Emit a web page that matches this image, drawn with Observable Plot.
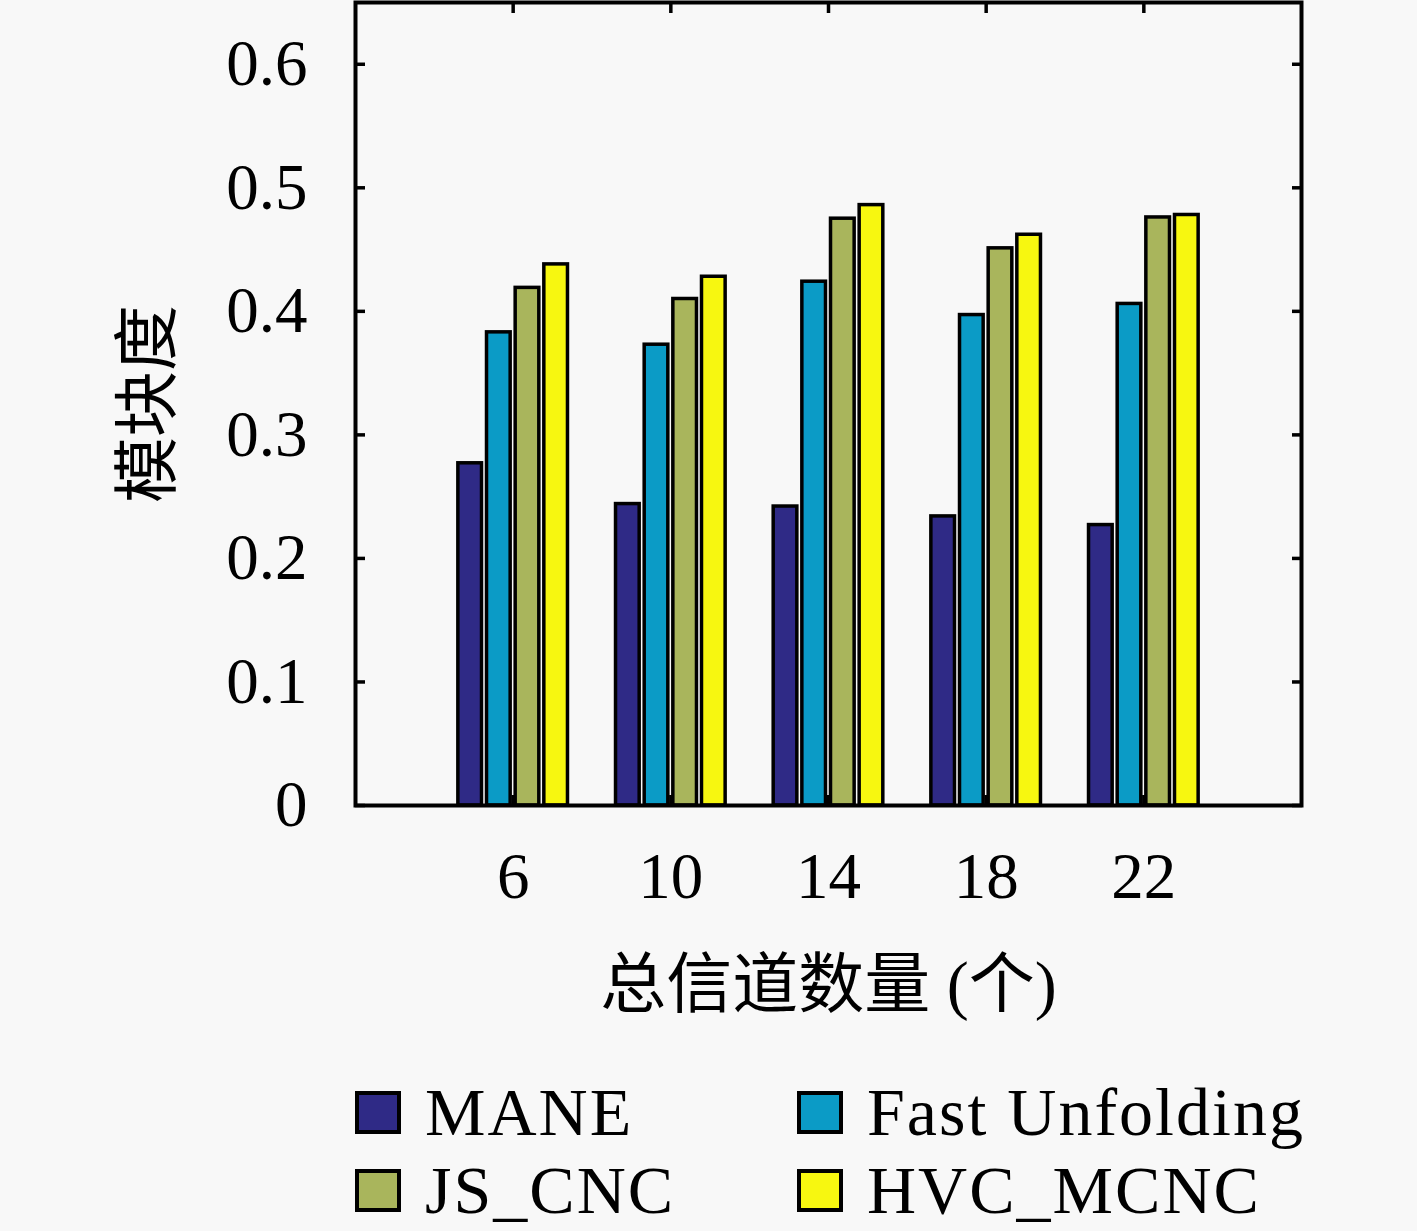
<!DOCTYPE html>
<html>
<head>
<meta charset="utf-8">
<script src="https://cdn.jsdelivr.net/npm/d3@7"></script>
<script src="https://cdn.jsdelivr.net/npm/@observablehq/plot@0.6"></script>
<style>
  html, body { margin: 0; padding: 0; background: #f8f8f8; }
  #wrap { position: relative; width: 1417px; }
  #legend { position: relative; width: 1417px; height: 191px; font-family: "Liberation Serif", "DejaVu Serif", serif; font-size: 68px; letter-spacing: 2px; color: #000; }
  .item { position: absolute; display: flex; align-items: center; height: 70px; }
  .sw { width: 38px; height: 35px; border: 4px solid #000; margin-right: 24px; box-sizing: content-box; }
</style>
</head>
<body>
<div id="wrap"></div>
<script>
// ---- data ----
const categories = [6, 10, 14, 18, 22];
const seriesNames = ["MANE", "Fast Unfolding", "JS_CNC", "HVC_MCNC"];
const maneValues = [0.277, 0.244, 0.242, 0.234, 0.227];
const fastValues = [0.383, 0.373, 0.424, 0.397, 0.406];
const jsValues   = [0.419, 0.410, 0.475, 0.451, 0.476];
const hvcValues  = [0.438, 0.428, 0.486, 0.462, 0.478];
const seriesColors = ["#2f2a86", "#0b9bc6", "#a9b55c", "#f7f710"];
const yTicks = [0, 0.1, 0.2, 0.3, 0.4, 0.5, 0.6];
const xLabel = "总信道数量 (个)";
const yLabel = "模块度";

const allValues = [maneValues, fastValues, jsValues, hvcValues];
const slot = 0.727, barW = 0.6;
const rows = [];
allValues.forEach((vals, si) => {
  vals.forEach((v, ci) => {
    const c = categories[ci] + (si - 1.5) * slot;
    rows.push({ series: seriesNames[si], x1: c - barW / 2, x2: c + barW / 2, value: v });
  });
});

const W = 1417, H = 1040;
const font = '"Liberation Serif", "DejaVu Serif", serif';
const cjk = '"Liberation Serif", "Noto Sans CJK SC", serif';

const chart = Plot.plot({
  width: W,
  height: H,
  marginLeft: 355,
  marginRight: 116,
  marginTop: 2,
  marginBottom: H - 805,
  style: { background: "#f8f8f8", fontFamily: font, color: "#000", overflow: "visible" },
  x: { type: "linear", domain: [2, 26] },
  y: { domain: [0, 0.65] },
  color: { domain: seriesNames, range: seriesColors },
  marks: [
    Plot.rect(rows, { x1: "x1", x2: "x2", y1: 0, y2: "value", fill: "series", stroke: "#000", strokeWidth: 3.5 }),
    // tick labels
    Plot.axisY(yTicks, { anchor: "left", tickSize: 0, tickPadding: 48, fontSize: 65, tickFormat: d => d === 0 ? "0" : d.toFixed(1), label: null }),
    Plot.axisX(categories, { anchor: "bottom", tickSize: 0, tickPadding: 46, fontSize: 65, label: null }),
    // inward ticks on all four sides
    Plot.axisY(yTicks, { anchor: "left", tickSize: 10, dx: 10, text: null, strokeWidth: 3.5, label: null }),
    Plot.axisY(yTicks, { anchor: "right", tickSize: 10, dx: -10, text: null, strokeWidth: 3.5, label: null }),
    Plot.axisX(categories, { anchor: "top", tickSize: 10, dy: 10, text: null, strokeWidth: 3.5, label: null }),
    Plot.axisX(categories, { anchor: "bottom", tickSize: 10, dy: -10, text: null, strokeWidth: 3.5, label: null }),
    Plot.frame({ stroke: "#000", strokeWidth: 4 }),
    // axis titles
    Plot.text([yLabel], { text: d => d, frameAnchor: "left", dx: -207, rotate: -90, textAnchor: "middle", lineAnchor: "middle", fontSize: 66, fontFamily: cjk, fill: "#000" }),
    Plot.text([xLabel], { text: d => d, frameAnchor: "bottom", dy: 180, textAnchor: "middle", lineAnchor: "middle", fontSize: 66, fontFamily: cjk, fill: "#000" })
  ]
});

const wrap = document.getElementById("wrap");
wrap.appendChild(chart);

// legend
const legend = document.createElement("div");
legend.id = "legend";
const pos = [[355, 37], [797, 37], [355, 115], [797, 115]];
[0, 1, 2, 3].forEach((si, k) => {
  const it = document.createElement("div");
  it.className = "item";
  it.style.left = pos[k][0] + "px";
  it.style.top = pos[k][1] + "px";
  const sw = document.createElement("div");
  sw.className = "sw";
  sw.style.background = seriesColors[si];
  const tx = document.createElement("span");
  tx.textContent = seriesNames[si];
  it.appendChild(sw);
  it.appendChild(tx);
  legend.appendChild(it);
});
wrap.appendChild(legend);
</script>
</body>
</html>
